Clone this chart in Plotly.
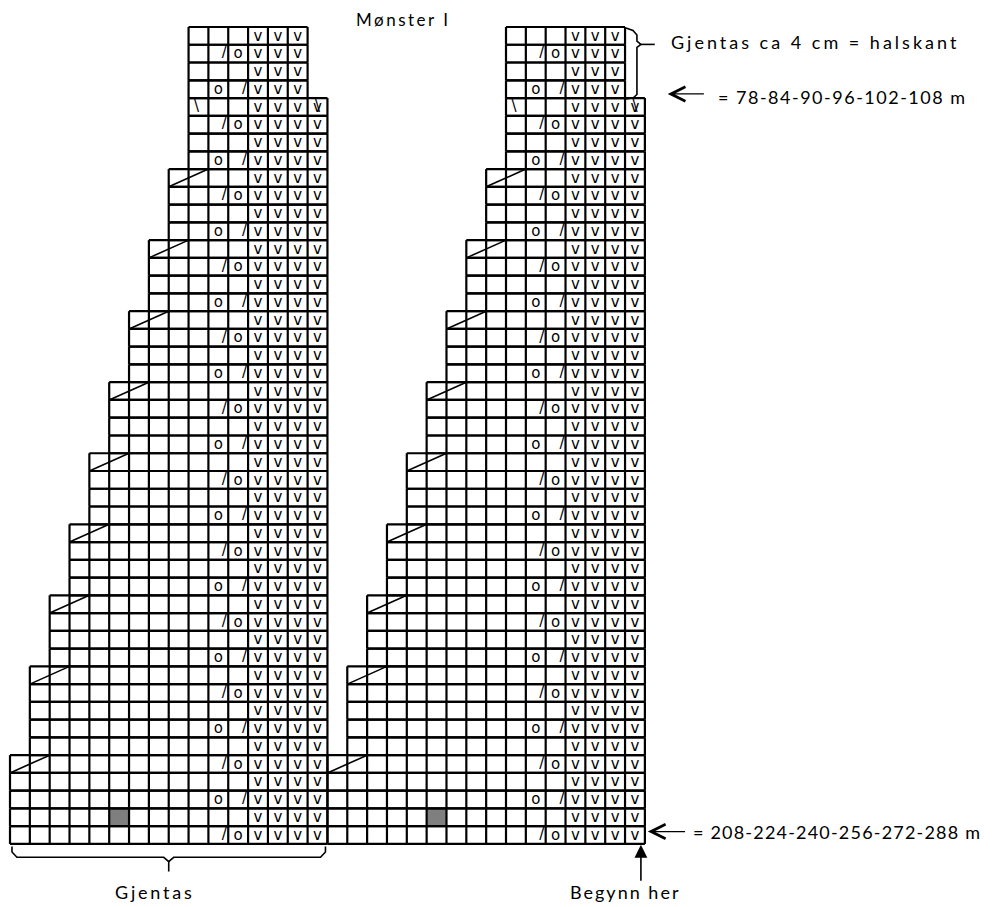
import plotly.graph_objects as go

# ---------------- data ----------------
TITLE = "Mønster I"
CHART_OFFSETS = [0, 16]          # the chart is shown twice, side by side (column offset)
# first / last+1 column of every row, top row first (46 rows)
ROW_START = [9, 9, 9, 9, 9, 9, 9, 9,
             8, 8, 8, 8, 7, 7, 7, 7, 6, 6, 6, 6, 5, 5, 5, 5,
             4, 4, 4, 4, 3, 3, 3, 3, 2, 2, 2, 2,
             1, 1, 1, 1, 1, 0, 0, 0, 0, 0]
ROW_END = [15, 15, 15, 15] + [16] * 42
V_COLS_NECK = [12, 13, 14]
V_COLS_BODY = [12, 13, 14, 15]
SLASH_O_ROWS = [2, 6, 10, 14, 18, 22, 26, 30, 34, 38, 42, 46]   # "/" col 10, "o" col 11
O_SLASH_ROWS = [4, 8, 12, 16, 20, 24, 28, 32, 36, 40, 44]       # "o" col 10, "/" col 11
BACKSLASH_ROW = 5
BACKSLASH_COLS = [9, 15]
STEP_ROWS = [9, 13, 17, 21, 25, 29, 33, 37, 42]                  # rows with diagonal line
GRAY_CELL = (45, 5)                                             # (row, column)

LBL_TOP = "Gjentas ca 4 cm = halskant"
LBL_TOP_ST = "= 78-84-90-96-102-108 m"
LBL_BOT_ST = "= 208-224-240-256-272-288 m"
LBL_START = "Begynn her"
LBL_REPEAT = "Gjentas"

# ---------------- geometry of the page ----------------
PAGE_MARGIN = 8                       # default body margin of the html page
W, H = 993 - PAGE_MARGIN, 907 - PAGE_MARGIN
X0PX, CW = 10.0 - PAGE_MARGIN, 19.84  # pixel of column 0, column width
Y0PX, RH = 27.0 - PAGE_MARGIN, 17.76  # pixel of row-1 top, row height
xr = [-X0PX / CW, (W - X0PX) / CW]
yr = [(H - Y0PX) / RH, -Y0PX / RH]

fig = go.Figure()

# gray cell
for off in CHART_OFFSETS:
    r, c = GRAY_CELL
    fig.add_shape(type="rect", xref="x", yref="y", x0=c + off, x1=c + off + 1,
                  y0=r - 1, y1=r, fillcolor="#7f7f7f", line_width=0, layer="below")

# grid
gx, gy = [], []
for off in CHART_OFFSETS:
    for i in range(len(ROW_START)):
        s, e = ROW_START[i] + off, ROW_END[i] + off
        gx += [s, e, None, s, e, None]
        gy += [i, i, None, i + 1, i + 1, None]
        for c in range(s, e + 1):
            gx += [c, c, None]
            gy += [i, i + 1, None]
fig.add_trace(go.Scatter(x=gx, y=gy, mode="lines", line=dict(color="black", width=2.2),
                         hoverinfo="skip", showlegend=False))

# diagonal lines at the steps
dx, dy = [], []
for off in CHART_OFFSETS:
    for r in STEP_ROWS:
        s = ROW_START[r - 1] + off
        dx += [s, s + 2, None]
        dy += [r, r - 1, None]
fig.add_trace(go.Scatter(x=dx, y=dy, mode="lines", line=dict(color="black", width=1.6),
                         hoverinfo="skip", showlegend=False))

# symbols
vx, vy, ox, oy, sx, sy, bx, by = [], [], [], [], [], [], [], []
for off in CHART_OFFSETS:
    for i in range(len(ROW_START)):
        cols = V_COLS_NECK if ROW_END[i] == 15 else V_COLS_BODY
        for c in cols:
            vx.append(c + off + 0.5); vy.append(i + 0.55)
    for r in SLASH_O_ROWS:
        sx.append(10 + off + 0.8); sy.append(r - 0.5)
        ox.append(11 + off + 0.5); oy.append(r - 0.45)
    for r in O_SLASH_ROWS:
        ox.append(10 + off + 0.5); oy.append(r - 0.45)
        sx.append(11 + off + 0.82); sy.append(r - 0.5)
    for c, dxo in zip(BACKSLASH_COLS, [0.4, 0.5]):
        bx.append(c + off + dxo); by.append(BACKSLASH_ROW - 0.5)

SYMF = dict(family="DejaVu Sans", size=15, color="black")
for xs, ys, t in [(vx, vy, "v"), (ox, oy, "o"), (sx, sy, "/"), (bx, by, "\\")]:
    fig.add_trace(go.Scatter(x=xs, y=ys, mode="text", text=[t] * len(xs),
                             textposition="middle center", textfont=SYMF,
                             hoverinfo="skip", showlegend=False))

# bottom brace under left chart
n = 16
bxs = [0.1, 0.1, 0.35, n / 2 - 0.25, n / 2, n / 2, None,
       n / 2, n / 2 + 0.25, n - 0.35, n - 0.1, n - 0.1]
bys = [46.15, 46.45, 46.75, 46.75, 47.0, 47.55, None,
       47.0, 46.75, 46.75, 46.45, 46.15]
fig.add_trace(go.Scatter(x=bxs, y=bys, mode="lines", line=dict(color="black", width=1.6),
                         hoverinfo="skip", showlegend=False))

# right brace at neck of right chart
nr = 16 + 15
rxs = [nr + 0.05, nr + 0.4, nr + 0.6, nr + 0.6, nr + 0.8, nr + 0.6, nr + 0.6, nr + 0.4, nr + 0.05,
       None, nr + 0.8, nr + 1.5]
rys = [0.05, 0.2, 0.45, 0.8, 0.98, 1.15, 3.8, 4.0, 4.05, None, 0.98, 0.98]
fig.add_trace(go.Scatter(x=rxs, y=rys, mode="lines", line=dict(color="black", width=1.6),
                         hoverinfo="skip", showlegend=False))


def spaced(txt, px):
    return '<span style="letter-spacing:%.1fpx">%s</span>' % (px, txt)


TXTF = dict(family="Lato", size=18, color="black")
ann = []
ann.append(dict(x=19.8, y=-0.45, text=spaced(TITLE, 2.5), showarrow=False,
                font=dict(family="Lato", size=17, color="black"), xanchor="center", yanchor="middle"))
ann.append(dict(x=33.2, y=0.85, text=spaced(LBL_TOP, 3.0), showarrow=False, font=TXTF,
                xanchor="left", yanchor="middle"))
ann.append(dict(x=35.6, y=3.95, text=spaced(LBL_TOP_ST, 1.5), showarrow=False, font=TXTF,
                xanchor="left", yanchor="middle"))
ann.append(dict(x=34.3, y=45.3, text=spaced(LBL_BOT_ST, 1.2), showarrow=False, font=TXTF,
                xanchor="left", yanchor="middle"))
ann.append(dict(x=31.0, y=48.7, text=spaced(LBL_START, 2.0), showarrow=False, font=TXTF,
                xanchor="center", yanchor="middle"))
ann.append(dict(x=7.3, y=48.7, text=spaced(LBL_REPEAT, 2.8), showarrow=False, font=TXTF,
                xanchor="center", yanchor="middle"))
# arrows
ann.append(dict(x=33.15, y=3.77, ax=35.05, ay=3.77, axref="x", ayref="y", xref="x", yref="y",
                text="", showarrow=True, arrowhead=5, arrowsize=2.2, arrowwidth=1.3, arrowcolor="black"))
ann.append(dict(x=32.15, y=45.3, ax=34.1, ay=45.3, axref="x", ayref="y", xref="x", yref="y",
                text="", showarrow=True, arrowhead=5, arrowsize=2.2, arrowwidth=1.3, arrowcolor="black"))
ann.append(dict(x=31.8, y=46.05, ax=31.8, ay=48.15, axref="x", ayref="y", xref="x", yref="y",
                text="", showarrow=True, arrowhead=2, arrowsize=1.6, arrowwidth=1.6, arrowcolor="black"))
fig.update_layout(annotations=ann)

fig.update_layout(
    width=W, height=H, margin=dict(l=0, r=0, t=0, b=0, pad=0),
    paper_bgcolor="white", plot_bgcolor="white", showlegend=False,
    xaxis=dict(range=xr, visible=False, fixedrange=True),
    yaxis=dict(range=yr, visible=False, fixedrange=True),
)
fig.write_html("out.html", config={"displayModeBar": False})
